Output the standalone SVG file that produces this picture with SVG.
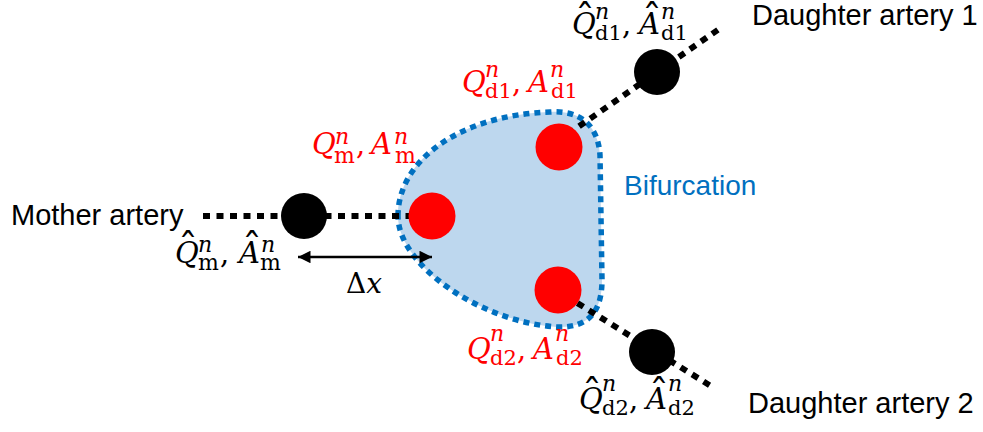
<svg xmlns="http://www.w3.org/2000/svg" width="983" height="432" viewBox="0 0 983 432">
<style>
.lbl{font-family:"Liberation Sans",Arial,sans-serif;font-size:29px;fill:#000}
.bif{font-family:"Liberation Sans",Arial,sans-serif;font-size:28px;fill:#0070C0}
.m{font-family:"DejaVu Serif","Liberation Serif",serif;font-size:29px}
.it{font-style:italic}
.s{font-size:22px}
.sd{font-size:21px}
.hat{font-size:40px;font-style:normal}
.red{fill:#FF0000}
.blk{fill:#000}
.dot{stroke:#000;stroke-width:6;stroke-dasharray:7 6.5;fill:none}
.bc{fill:#000}
.rc{fill:#FF0000}
</style>
<defs>
<marker id="ah" viewBox="0 0 10 10" refX="10" refY="5" markerWidth="5.5" markerHeight="5" orient="auto-start-reverse"><path d="M0,0 L10,5 L0,10 z" fill="#000"/></marker>
</defs>
<g id="bifurcation">
<path d="M398 216 C398 160 460 115 550 112 C580 110 598 125 600 155 L602 280 C602 310 590 328 557 327 C480 322 398 265 398 216 Z" fill="#BDD7EE" stroke="#0070C0" stroke-width="5.5" stroke-dasharray="6 5"/>
<text class="bif" x="624" y="195">Bifurcation</text>
</g>
<g id="connectors">
<line class="dot" x1="203" y1="216" x2="432" y2="216"/>
<line class="dot" x1="568" y1="134" x2="722" y2="27"/>
<line class="dot" x1="566" y1="296" x2="714" y2="388"/>
<line x1="298" y1="257" x2="432" y2="257" stroke="#000" stroke-width="2.5" marker-start="url(#ah)" marker-end="url(#ah)"/>
<text class="m" x="346" y="293" style="font-size:28px">Δ<tspan class="it">x</tspan></text>
</g>
<g id="mother">
<circle class="bc" cx="304" cy="216" r="23"/>
<text class="lbl" x="11" y="225">Mother artery</text>
<text class="m blk"><tspan class="it" x="175" y="263">Q</tspan><tspan class="hat" x="178" y="261">ˆ</tspan><tspan class="s it" x="198" y="252">n</tspan><tspan class="s" x="198" y="270">m</tspan><tspan x="220" y="263">,</tspan><tspan class="it" x="239" y="263">A</tspan><tspan class="hat" x="242" y="261">ˆ</tspan><tspan class="s it" x="261" y="252">n</tspan><tspan class="s" x="260" y="270">m</tspan></text>
</g>
<g id="mother-boundary">
<circle class="rc" cx="432" cy="216" r="23.5"/>
<text class="m red"><tspan class="it" x="312" y="154">Q</tspan><tspan class="s it" x="335" y="144">n</tspan><tspan class="s" x="334" y="163">m</tspan><tspan x="356" y="154">,</tspan><tspan class="it" x="371" y="154">A</tspan><tspan class="s it" x="394" y="144">n</tspan><tspan class="s" x="395" y="163">m</tspan></text>
</g>
<g id="daughter1-boundary">
<circle class="rc" cx="559" cy="147" r="23.5"/>
<text class="m red"><tspan class="it" x="462" y="92">Q</tspan><tspan class="s it" x="485" y="77">n</tspan><tspan class="sd" x="485" y="98">d1</tspan><tspan x="512" y="92">,</tspan><tspan class="it" x="528" y="92">A</tspan><tspan class="s it" x="550" y="77">n</tspan><tspan class="sd" x="551" y="98">d1</tspan></text>
</g>
<g id="daughter2-boundary">
<circle class="rc" cx="558" cy="290" r="23.5"/>
<text class="m red"><tspan class="it" x="467" y="359">Q</tspan><tspan class="s it" x="490" y="341">n</tspan><tspan class="sd" x="490" y="365">d2</tspan><tspan x="517" y="359">,</tspan><tspan class="it" x="533" y="359">A</tspan><tspan class="s it" x="555" y="341">n</tspan><tspan class="sd" x="556" y="365">d2</tspan></text>
</g>
<g id="daughter1">
<circle class="bc" cx="657" cy="72" r="23"/>
<text class="lbl" x="752" y="25">Daughter artery 1</text>
<text class="m blk"><tspan class="it" x="572" y="34">Q</tspan><tspan class="hat" x="575" y="32">ˆ</tspan><tspan class="s it" x="595" y="19">n</tspan><tspan class="sd" x="595" y="40">d1</tspan><tspan x="622" y="34">,</tspan><tspan class="it" x="639" y="34">A</tspan><tspan class="hat" x="642" y="32">ˆ</tspan><tspan class="s it" x="661" y="19">n</tspan><tspan class="sd" x="661" y="40">d1</tspan></text>
</g>
<g id="daughter2">
<circle class="bc" cx="652" cy="352" r="23"/>
<text class="lbl" x="748" y="413">Daughter artery 2</text>
<text class="m blk"><tspan class="it" x="579" y="409">Q</tspan><tspan class="hat" x="582" y="407">ˆ</tspan><tspan class="s it" x="602" y="391">n</tspan><tspan class="sd" x="602" y="415">d2</tspan><tspan x="629" y="409">,</tspan><tspan class="it" x="646" y="409">A</tspan><tspan class="hat" x="649" y="407">ˆ</tspan><tspan class="s it" x="668" y="391">n</tspan><tspan class="sd" x="668" y="415">d2</tspan></text>
</g>
</svg>
